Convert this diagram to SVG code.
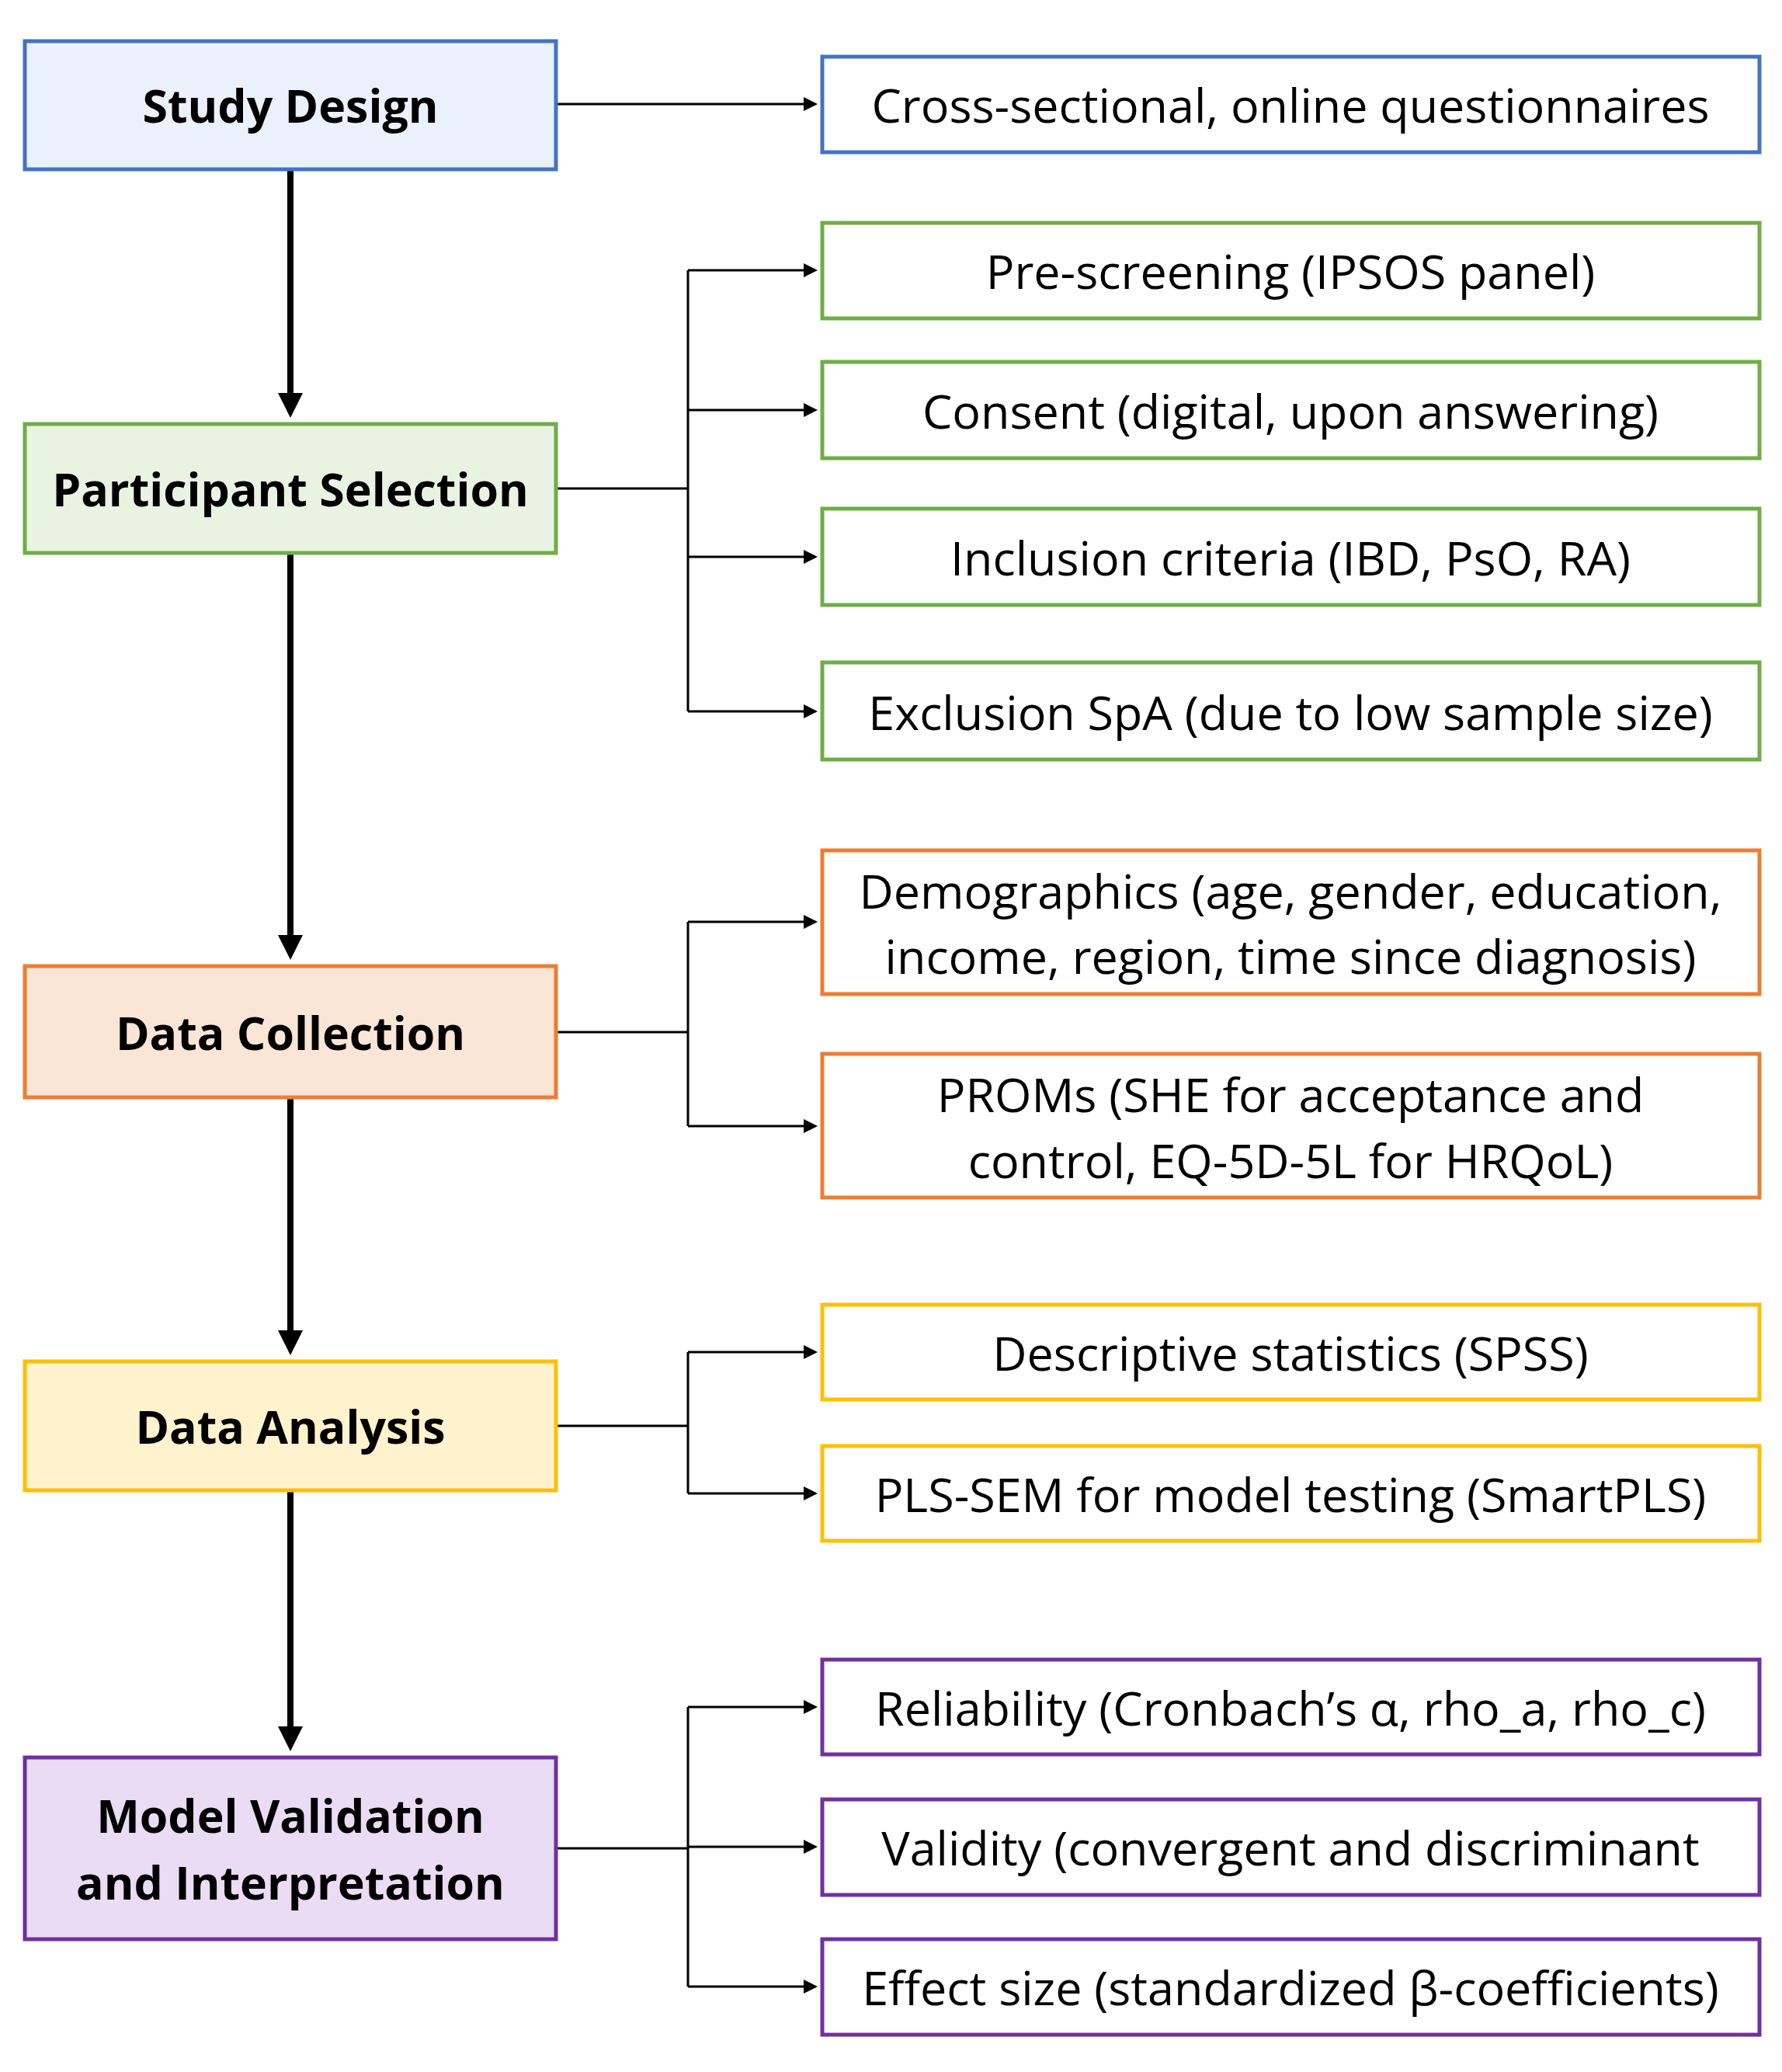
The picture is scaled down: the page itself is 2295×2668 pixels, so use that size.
<svg xmlns="http://www.w3.org/2000/svg" width="2295" height="2668" viewBox="0 0 2295 2668">
<style>
.b{stroke-width:5}
.t{font-family:"Open Sans","Liberation Sans",sans-serif;font-size:61px;fill:#000;text-anchor:middle;dominant-baseline:central}
.h{font-weight:bold;font-size:59px}
.c{fill:none;stroke:#000;stroke-width:3}
.v{fill:none;stroke:#000;stroke-width:8}
</style>
<defs>
<marker id="a" markerWidth="6" markerHeight="6" refX="5" refY="3" orient="auto" markerUnits="strokeWidth"><path d="M0,0L6,3L0,6z" fill="#000"/></marker>
<marker id="A" markerWidth="4" markerHeight="4" refX="3" refY="2" orient="auto" markerUnits="strokeWidth"><path d="M0,0L4,2L0,4z" fill="#000"/></marker>
</defs>
<rect width="2295" height="2668" fill="#fff"/>
<g id="connectors">
<path class="v" d="M374,218V530" marker-end="url(#A)"/>
<path class="v" d="M374,712V1228" marker-end="url(#A)"/>
<path class="v" d="M374,1413V1737" marker-end="url(#A)"/>
<path class="v" d="M374,1919V2247" marker-end="url(#A)"/>
<path class="c" d="M716,134H1050" marker-end="url(#a)"/>
<path class="c" d="M716,629H886M886,348V916"/>
<path class="c" d="M886,348H1050" marker-end="url(#a)"/>
<path class="c" d="M886,528H1050" marker-end="url(#a)"/>
<path class="c" d="M886,717H1050" marker-end="url(#a)"/>
<path class="c" d="M886,916H1050" marker-end="url(#a)"/>
<path class="c" d="M716,1329H886M886,1187V1450"/>
<path class="c" d="M886,1187H1050" marker-end="url(#a)"/>
<path class="c" d="M886,1450H1050" marker-end="url(#a)"/>
<path class="c" d="M716,1836H886M886,1741V1923"/>
<path class="c" d="M886,1741H1050" marker-end="url(#a)"/>
<path class="c" d="M886,1923H1050" marker-end="url(#a)"/>
<path class="c" d="M716,2380H886M886,2198V2558"/>
<path class="c" d="M886,2198H1050" marker-end="url(#a)"/>
<path class="c" d="M886,2378H1050" marker-end="url(#a)"/>
<path class="c" d="M886,2558H1050" marker-end="url(#a)"/>
</g>
<g id="study"><rect class="b" x="32" y="53" width="684" height="165" fill="#EAF1FA" stroke="#4472C4"/><text class="t h" x="374" y="135">Study Design</text></g>
<g id="participant"><rect class="b" x="32" y="546" width="684" height="166" fill="#E9F3E2" stroke="#70AD47"/><text class="t h" x="374" y="629">Participant Selection</text></g>
<g id="collection"><rect class="b" x="32" y="1244" width="684" height="169" fill="#FBE5D6" stroke="#ED7D31"/><text class="t h" x="374" y="1329">Data Collection</text></g>
<g id="analysis"><rect class="b" x="32" y="1753" width="684" height="166" fill="#FFF2CC" stroke="#FFC000"/><text class="t h" x="374" y="1836">Data Analysis</text></g>
<g id="validation"><rect class="b" x="32" y="2263" width="684" height="234" fill="#EADCF4" stroke="#7030A0"/><text class="t h" x="374" y="2337">Model Validation</text><text class="t h" x="374" y="2423">and Interpretation</text></g>
<g fill="#fff">
<g id="r1"><rect class="b" x="1059" y="73" width="1207" height="123" stroke="#4472C4"/><text class="t" x="1662" y="134">Cross-sectional, online questionnaires</text></g>
<g id="r2"><rect class="b" x="1059" y="287" width="1207" height="123" stroke="#70AD47"/><text class="t" x="1662" y="348">Pre-screening (IPSOS panel)</text></g>
<g id="r3"><rect class="b" x="1059" y="466" width="1207" height="124" stroke="#70AD47"/><text class="t" x="1662" y="528">Consent (digital, upon answering)</text></g>
<g id="r4"><rect class="b" x="1059" y="655" width="1207" height="124" stroke="#70AD47"/><text class="t" x="1662" y="717">Inclusion criteria (IBD, PsO, RA)</text></g>
<g id="r5"><rect class="b" x="1059" y="853" width="1207" height="125" stroke="#70AD47"/><text class="t" x="1662" y="916">Exclusion SpA (due to low sample size)</text></g>
<g id="r6"><rect class="b" x="1059" y="1095" width="1207" height="185" stroke="#ED7D31"/><text class="t" x="1662" y="1146">Demographics (age, gender, education,</text><text class="t" x="1662" y="1230">income, region, time since diagnosis)</text></g>
<g id="r7"><rect class="b" x="1059" y="1357" width="1207" height="185" stroke="#ED7D31"/><text class="t" x="1662" y="1408">PROMs (SHE for acceptance and</text><text class="t" x="1662" y="1493">control, EQ-5D-5L for HRQoL)</text></g>
<g id="r8"><rect class="b" x="1059" y="1680" width="1207" height="122" stroke="#FFC000"/><text class="t" x="1662" y="1741">Descriptive statistics (SPSS)</text></g>
<g id="r9"><rect class="b" x="1059" y="1862" width="1207" height="122" stroke="#FFC000"/><text class="t" x="1662" y="1923">PLS-SEM for model testing (SmartPLS)</text></g>
<g id="r10"><rect class="b" x="1059" y="2137" width="1207" height="122" stroke="#7030A0"/><text class="t" x="1662" y="2198">Reliability (Cronbach’s α, rho_a, rho_c)</text></g>
<g id="r11"><rect class="b" x="1059" y="2317" width="1207" height="123" stroke="#7030A0"/><text class="t" x="1662" y="2378">Validity (convergent and discriminant</text></g>
<g id="r12"><rect class="b" x="1059" y="2497" width="1207" height="123" stroke="#7030A0"/><text class="t" x="1662" y="2558">Effect size (standardized β-coefficients)</text></g>
</g>
</svg>
